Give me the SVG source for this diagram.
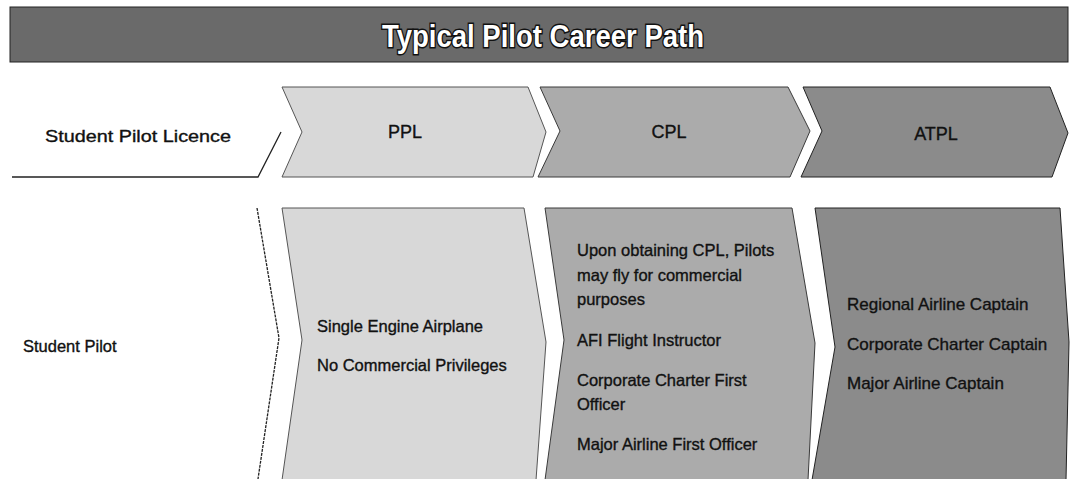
<svg xmlns="http://www.w3.org/2000/svg" width="1070" height="479" viewBox="0 0 1070 479">
  <style>
    .label { font-family: "Liberation Sans", Arial, sans-serif; fill: #111; stroke: #111; stroke-width: 0.35px; }
    .stage { font-size: 18px; text-anchor: middle; }
    .head { font-size: 17px; }
    .item { font-size: 16.5px; }
    .big { font-size: 17px; }
    .edge { fill: none; stroke: #222; stroke-width: 1.3; }
    .ppl { fill: #d8d8d8; stroke: #555; stroke-width: 1; }
    .cpl { fill: #ababab; stroke: #3a3a3a; stroke-width: 1; }
    .atpl { fill: #8b8b8b; stroke: #222; stroke-width: 1; }
  </style>

  <!-- title band -->
  <g id="title">
    <rect x="10" y="7" width="1058" height="55" fill="#6a6a6a" stroke="#222" stroke-width="1"/>
    <text x="543" y="47" text-anchor="middle" textLength="322" lengthAdjust="spacingAndGlyphs"
          style="font-family: 'Liberation Sans', Arial, sans-serif; font-size: 32px; font-weight: bold; fill: #fff; paint-order: stroke; stroke: #111; stroke-width: 3px;">Typical Pilot Career Path</text>
  </g>

  <!-- licence row -->
  <g id="spl-licence">
    <path class="edge" d="M12,177 L258,177 L281,132"/>
    <text class="label head" x="45" y="142" textLength="186" lengthAdjust="spacingAndGlyphs">Student Pilot Licence</text>
  </g>
  <g id="ppl-licence">
    <polygon class="ppl" points="282,87 528,87 546,132 533,177 282,177 302,132"/>
    <text class="label stage" x="405" y="138">PPL</text>
  </g>
  <g id="cpl-licence">
    <polygon class="cpl" points="540,87 788,87 810,131 790,177 538,177 560,131"/>
    <text class="label stage" x="669" y="138">CPL</text>
  </g>
  <g id="atpl-licence">
    <polygon class="atpl" points="803,87 1050,87 1068,133 1052,177 801,177 822,131"/>
    <text class="label stage" x="936" y="140">ATPL</text>
  </g>

  <!-- role row -->
  <g id="spl-roles">
    <path class="edge" d="M257,208 L279,338 L258,479" stroke-dasharray="3 1"/>
    <text class="label item" x="23" y="352">Student Pilot</text>
  </g>
  <g id="ppl-roles">
    <polygon class="ppl" points="282,208 524,208 546,342 536,480 282,480 302,340"/>
    <text class="label item" x="317" y="332">Single Engine Airplane</text>
    <text class="label item" x="317" y="371">No Commercial Privileges</text>
  </g>
  <g id="cpl-roles">
    <polygon class="cpl" points="545,208 792,208 815,343 808,480 545,480 564,340"/>
    <g class="label item">
      <text x="577" y="256">Upon obtaining CPL, Pilots</text>
      <text x="577" y="281">may fly for commercial</text>
      <text x="577" y="305">purposes</text>
      <text x="577" y="346">AFI Flight Instructor</text>
      <text x="577" y="386">Corporate Charter First</text>
      <text x="577" y="410">Officer</text>
      <text x="577" y="450">Major Airline First Officer</text>
    </g>
  </g>
  <g id="atpl-roles">
    <polygon class="atpl" points="815,208 1060,208 1069,342 1066,480 812,480 835,347"/>
    <g class="label big">
      <text x="847" y="310">Regional Airline Captain</text>
      <text x="847" y="350">Corporate Charter Captain</text>
      <text x="847" y="389">Major Airline Captain</text>
    </g>
  </g>
</svg>
